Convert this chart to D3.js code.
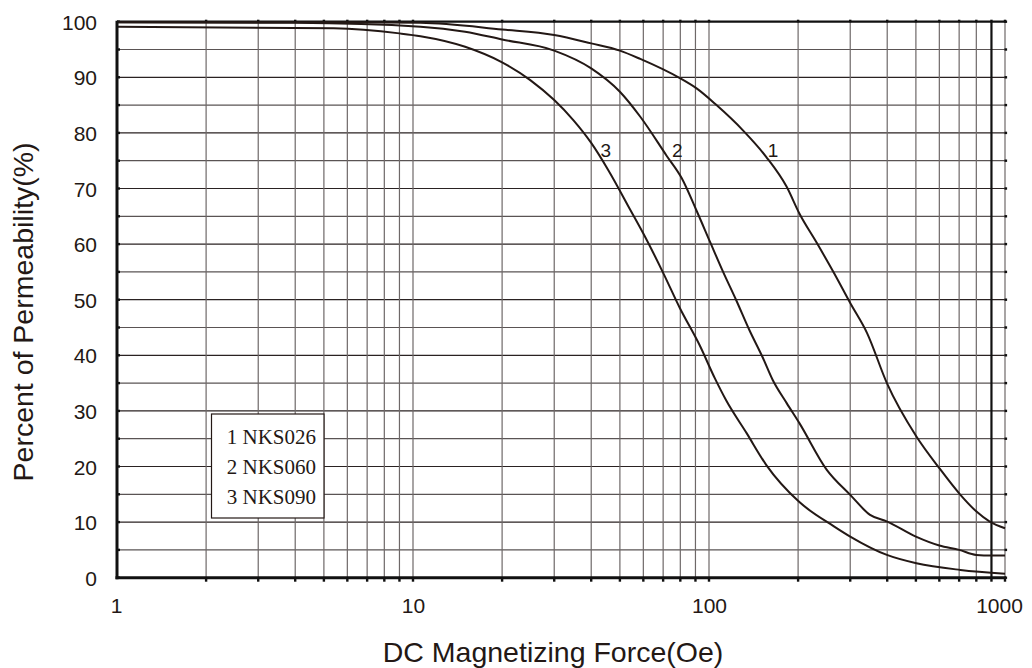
<!DOCTYPE html>
<html><head><meta charset="utf-8">
<script src="https://cdn.jsdelivr.net/npm/d3@7"></script>
<style>body{margin:0;background:#fff;}svg{display:block;}</style>
</head><body>
<svg id="c" width="1032" height="668"></svg>
<script>
// ---- data ----
const seriesNames = ["1 NKS026", "2 NKS060", "3 NKS090"];
const curveLabels = ["1", "2", "3"];
const x1 = [1, 5, 10.6, 20, 30, 40, 50, 58.6, 80, 90.8, 106, 130, 156, 183, 202, 232, 265, 300, 342, 399, 502, 600, 707, 801, 888, 1000];
const y1 = [99.9, 99.9, 99.8, 98.6, 97.6, 96.1, 94.8, 93.3, 89.8, 88.0, 85.0, 80.5, 75.7, 70.3, 65.5, 60.1, 54.7, 49.4, 44.0, 35.0, 25.4, 19.7, 14.9, 11.9, 10.1, 8.9];
const x2 = [1, 4, 10.6, 15, 20, 30, 40, 50, 58.6, 71.9, 81, 90.8, 101, 111.6, 123.6, 137, 151.6, 164, 183, 202, 250, 300, 350, 400, 500, 600, 700, 800, 900, 1000];
const y2 = [99.9, 99.8, 99.1, 98.2, 96.8, 94.8, 91.6, 87.4, 82.9, 75.9, 71.8, 66.0, 60.3, 55, 49.9, 44.5, 39.7, 35.6, 31.4, 27.8, 19.4, 14.9, 11.3, 10.1, 7.4, 5.8, 5.0, 4.1, 4.0, 4.0];
const x3 = [1, 5.4, 9, 10.6, 15, 20, 24.9, 30, 34.8, 40, 45.7, 54.3, 60, 70.2, 79.7, 93, 104.8, 114, 134, 156, 202, 265, 300, 399, 502, 707, 1000];
const y3 = [99.1, 98.8, 97.9, 97.4, 95.5, 92.7, 89.5, 85.9, 82.3, 78.2, 73.3, 66.1, 61.9, 54.7, 48.5, 41.8, 35.8, 32, 26.0, 20.3, 13.6, 9.2, 7.4, 4.1, 2.6, 1.4, 0.7];
const xTickLabels = [1, 10, 100, 1000];
const yTickLabels = [0, 10, 20, 30, 40, 50, 60, 70, 80, 90, 100];
// curve label anchor positions (data coords)
const labelX = [158, 75, 43];
const labelY = [75.7, 75.7, 75.7];

// ---- layout ----
const L = 117, R = 1005, T = 21.7, B = 577.7;
const svg = d3.select("#c");
const x = d3.scaleLog().domain([1, 1000]).range([L, R]);
const y = d3.scaleLinear().domain([0, 100]).range([B, T]);

const xGrid = [];
[1, 10, 100].forEach(d => { for (let k = 1; k <= 9; k++) xGrid.push(d * k); });
xGrid.push(1000);
const yGrid = d3.range(0, 101, 5);

const g = svg.append("g");
// horizontal grid
g.selectAll(".hg").data(yGrid.filter(v => v > 0 && v < 100)).join("line")
  .attr("x1", L).attr("x2", R).attr("y1", d => y(d)).attr("y2", d => y(d))
  .attr("stroke", d => d % 10 === 0 ? "#2a2222" : "#5a5454").attr("stroke-width", 1.2);
// vertical grid
g.selectAll(".vg").data(xGrid.filter(v => v > 1 && v < 1000)).join("line")
  .attr("x1", d => x(d)).attr("x2", d => x(d)).attr("y1", T).attr("y2", B)
  .attr("stroke", d => d === 900 ? "#111" : "#6e6868")
  .attr("stroke-width", d => d === 900 ? 2.2 : 1.2);

// right border
g.append("line").attr("x1", R).attr("x2", R).attr("y1", T).attr("y2", B).attr("stroke", "#6e6868").attr("stroke-width", 1.2);
// top border
g.append("line").attr("x1", L).attr("x2", R + 1).attr("y1", T).attr("y2", T).attr("stroke", "#111").attr("stroke-width", 2.2);

// top tick dots
g.selectAll(".tt").data(xGrid.filter(v => v > 1)).join("rect")
  .attr("x", d => x(d) - 1.2).attr("y", T - 2).attr("width", 2.4).attr("height", 2.6).attr("fill", "#111");
// right tick dots
g.selectAll(".rt").data(yGrid).join("rect")
  .attr("x", R - 0.5).attr("y", d => y(d) - 1.2).attr("width", 2.6).attr("height", 2.4).attr("fill", "#111");
// left tick dots (inside)
g.selectAll(".lt").data(yGrid).join("rect")
  .attr("x", L).attr("y", d => y(d) - 1.2).attr("width", 3).attr("height", 2.4).attr("fill", "#111");

// curves
const line = d3.line().x(d => x(d[0])).y(d => y(d[1])).curve(d3.curveMonotoneX);
[[x1, y1], [x2, y2], [x3, y3]].forEach(([xs, ys]) => {
  g.append("path").attr("d", line(xs.map((v, i) => [v, ys[i]])))
    .attr("fill", "none").attr("stroke", "#231815").attr("stroke-width", 2);
});

// left & bottom axis lines
g.append("line").attr("x1", L).attr("x2", L).attr("y1", T - 1).attr("y2", B + 1.5).attr("stroke", "#111").attr("stroke-width", 3);
g.append("line").attr("x1", L - 1.5).attr("x2", R + 1).attr("y1", B).attr("y2", B).attr("stroke", "#111").attr("stroke-width", 3);
// bottom tick marks
g.selectAll(".bt").data(xGrid.filter(v => v > 1)).join("rect")
  .attr("x", d => x(d) - 1.2).attr("y", B).attr("width", 2.4).attr("height", 4).attr("fill", "#111");

// axes labels via d3 axes
const xAxis = d3.axisBottom(x).tickValues(xTickLabels).tickFormat(d3.format("d")).tickSize(0).tickPadding(0);
const xa = svg.append("g").attr("transform", `translate(0,${B})`).call(xAxis);
xa.select(".domain").remove();
xa.selectAll("text").attr("font-family", "Liberation Sans, Arial, sans-serif").attr("font-size", 21)
  .attr("fill", "#231815").attr("y", 35).attr("dy", 0)
  .attr("dx", d => d === 1000 ? -6 : (d === 1 ? -1 : 0));

const yAxis = d3.axisLeft(y).tickValues(yTickLabels).tickFormat(d3.format("d")).tickSize(0).tickPadding(0);
const ya = svg.append("g").attr("transform", `translate(${L},0)`).call(yAxis);
ya.select(".domain").remove();
ya.selectAll("text").attr("font-family", "Liberation Sans, Arial, sans-serif").attr("font-size", 21)
  .attr("fill", "#231815").attr("x", -20).attr("dy", "0.36em");

// curve labels
curveLabels.forEach((t, i) => {
  svg.append("text").attr("x", x(labelX[i])).attr("y", y(labelY[i]))
    .attr("font-family", "Liberation Sans, Arial, sans-serif").attr("font-size", 19)
    .attr("fill", "#231815").text(t);
});

// legend box
const lg = svg.append("g");
lg.append("rect").attr("x", 211.5).attr("y", 414).attr("width", 112.5).attr("height", 104)
  .attr("fill", "#fff").attr("stroke", "#231815").attr("stroke-width", 1.2);
seriesNames.forEach((t, i) => {
  lg.append("text").attr("x", 316).attr("y", 444 + i * 30).attr("text-anchor", "end")
    .attr("font-family", "Liberation Serif, Times New Roman, serif").attr("font-size", 21)
    .attr("fill", "#231815").text(t);
});

// titles
svg.append("text").attr("x", 553).attr("y", 662).attr("text-anchor", "middle")
  .attr("font-family", "Liberation Sans, Arial, sans-serif").attr("font-size", 28.5)
  .attr("fill", "#231815").text("DC Magnetizing Force(Oe)");
svg.append("text").attr("transform", "translate(33,312) rotate(-90)").attr("text-anchor", "middle")
  .attr("font-family", "Liberation Sans, Arial, sans-serif").attr("font-size", 28.5)
  .attr("fill", "#231815").text("Percent of Permeability(%)");
</script>
</body></html>
